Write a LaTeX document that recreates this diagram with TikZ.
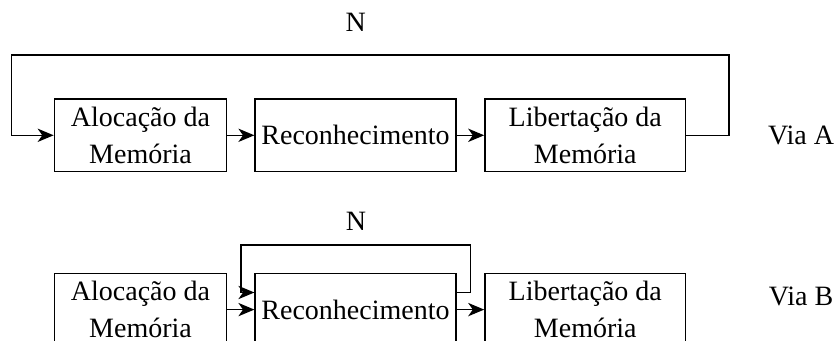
\documentclass[tikz,border=0pt]{standalone}
\usepackage{fontspec}
\setmainfont{Liberation Serif}
\usetikzlibrary{arrows.meta,calc}

\begin{document}
\begin{tikzpicture}[
    x=0.75pt, y=-0.75pt,
    every node/.style={font=\fontsize{21}{27.5}\selectfont},
    blk/.style={draw, line width=1pt, align=center, inner sep=0pt,
                minimum height=54.5pt},
    narrowblk/.style={blk, minimum width=129.3pt},
    wideblk/.style={blk, minimum width=150.7pt},
    link/.style={line width=1pt, -{Stealth[length=12pt,width=10pt,inset=3.5pt]}},
    lbl/.style={inner sep=0pt}
  ]
  \useasboundingbox (0,0) rectangle (837,341);
  \clip (0,0) rectangle (837,341);

  % Via A: loop over the whole chain
  \node[narrowblk] (a1) at (140.5,135.3) {Alocação da\\Memória};
  \node[wideblk]   (a2) at (355.5,135.3) {Reconhecimento};
  \node[wideblk]   (a3) at (585.3,135.3) {Libertação da\\Memória};

  \draw[link] (a1) -- (a2);
  \draw[link] (a2) -- (a3);
  \draw[link] (a3.east) -| (729,55) -| (11.7,135.3) -- (a1.west);

  \node[lbl] (na) at (355.8,22) {N};
  \node[lbl] (via) at (801,135) {Via A};

  % Via B: loop around the recognition step only
  \node[narrowblk] (b1) at (140.5,309.6) {Alocação da\\Memória};
  \node[wideblk]   (b2) at (355.5,309.6) {Reconhecimento};
  \node[wideblk]   (b3) at (585.3,309.6) {Libertação da\\Memória};

  \draw[link] (b1) -- (b2);
  \draw[link] (b2) -- (b3);
  \draw[link] ($(b2.east)+(0,-17.1)$) -| (470.7,245) -| (241,292.5)
              -- ($(b2.west)+(0,-17.1)$);

  \node[lbl] (nb) at (356,221.7) {N};
  \node[lbl] (vib) at (801,296) {Via B};
\end{tikzpicture}
\end{document}
